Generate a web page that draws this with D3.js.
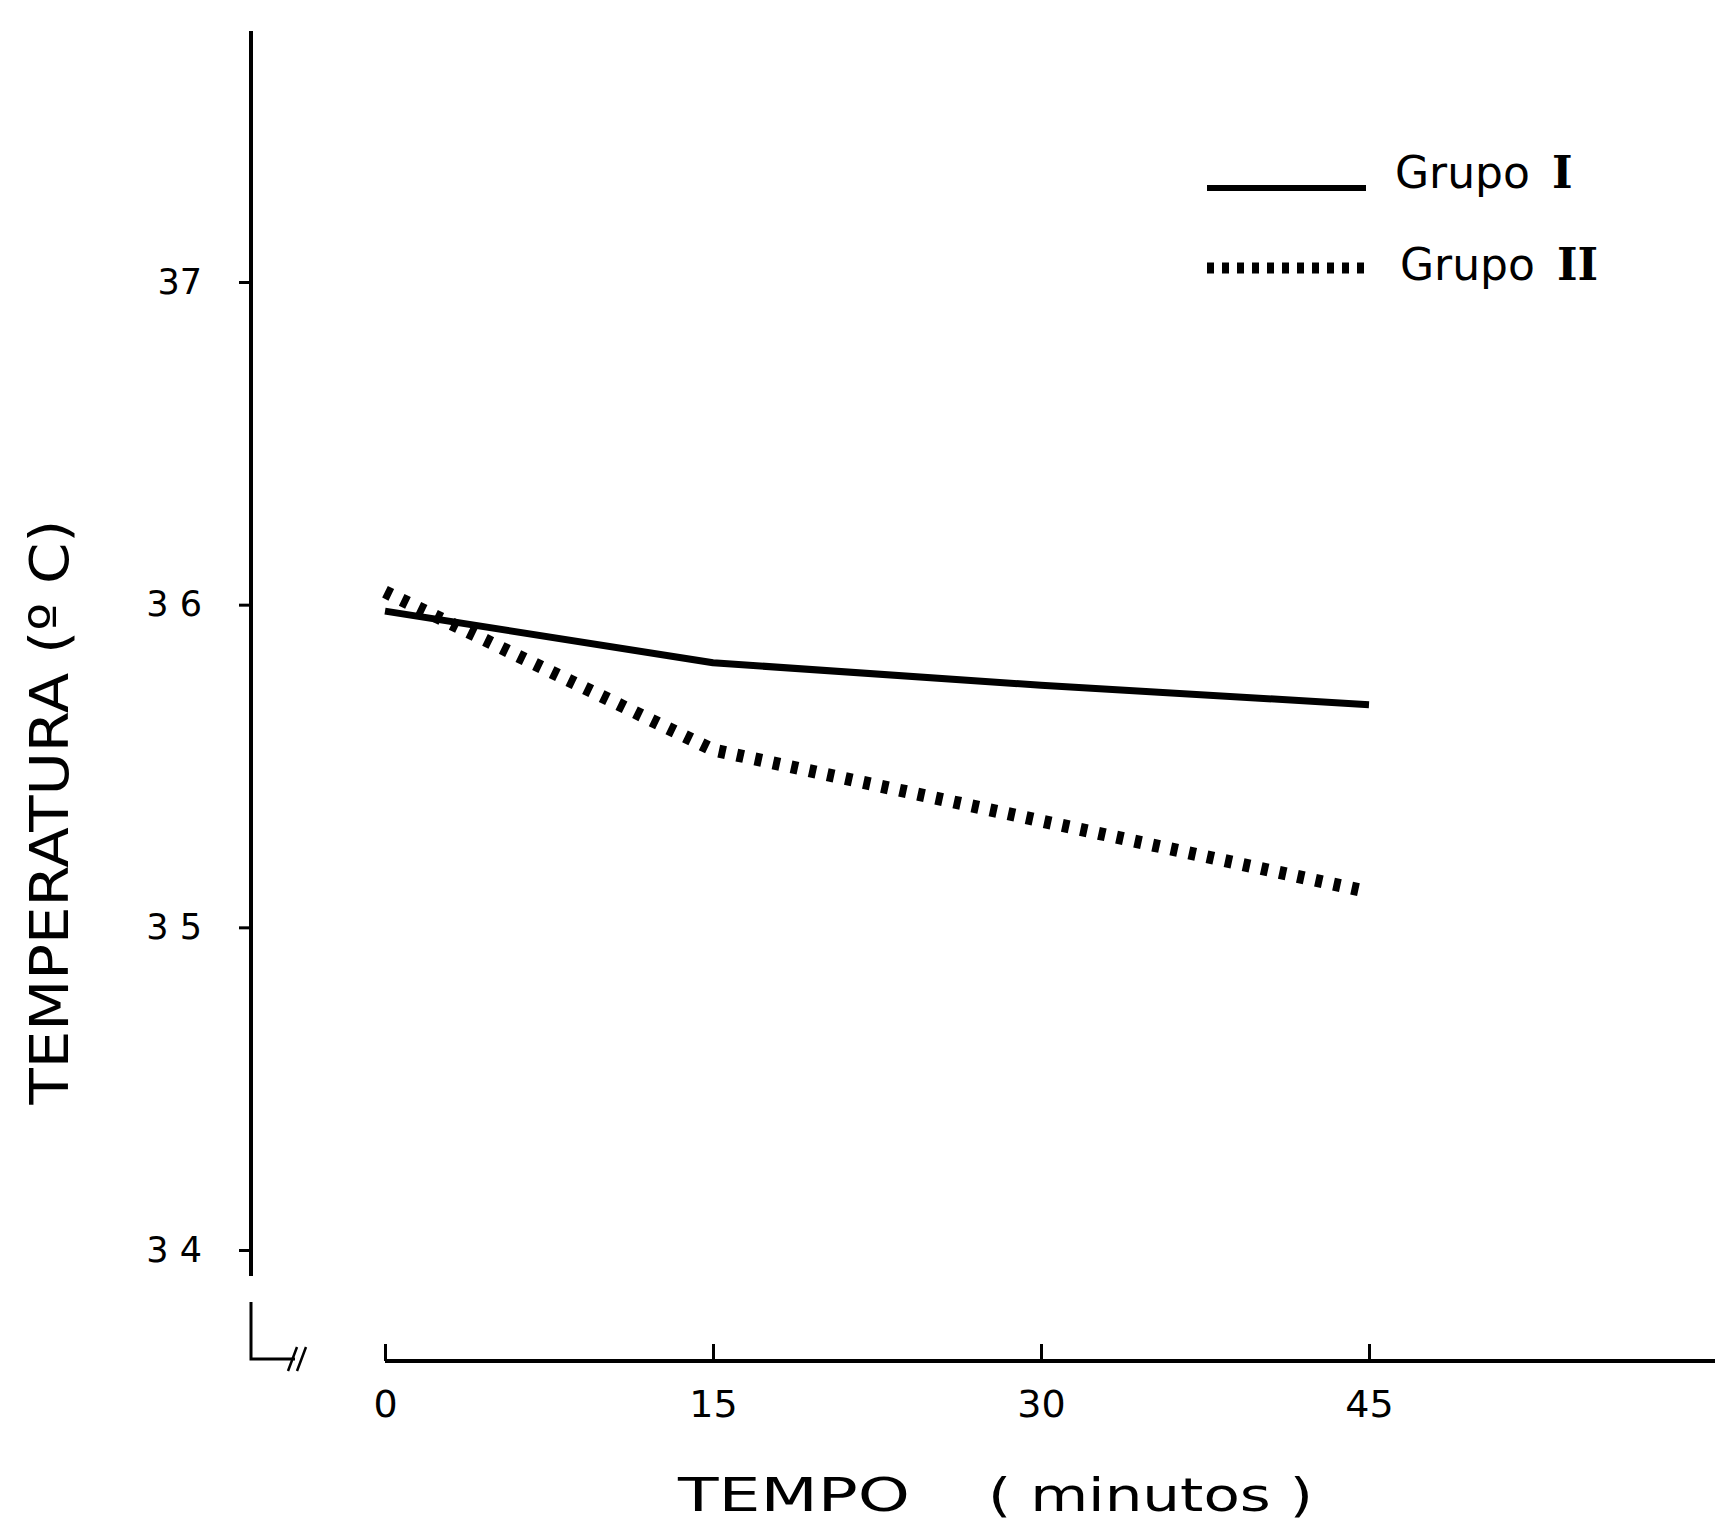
<!DOCTYPE html>
<html lang="pt">
<head>
<meta charset="utf-8">
<title>Temperatura x Tempo</title>
<script src="https://cdn.jsdelivr.net/npm/d3@7"></script>
<style>
    body { margin: 0; background: #fff; }
    text { font-family: "DejaVu Sans", sans-serif; fill: #000; }
</style>
</head>
<body>
<script>
    // dados
    var minutos = [0, 15, 30, 45];
    var grupo1 = [35.98, 35.82, 35.75, 35.69];
    var grupo2 = [36.04, 35.55, 35.33, 35.11];
    var yTicks = [34, 35, 36, 37];
    var yTickLabels = ["3 4", "3 5", "3 6", "37"];
    var xTicks = [0, 15, 30, 45];
    var xTickLabels = ["0", "15", "30", "45"];
    var grupos = ["Grupo ", "Grupo "];
    var romanos = ["I", "II"];

    var width = 1715;
    var height = 1523;
    var axisX = 251;      // eixo vertical
    var axisY = 1361;     // eixo horizontal

    var svg = d3.select("body").append("svg")
        .attr("width", width)
        .attr("height", height);

    var x = d3.scaleLinear().domain([0, 45]).range([385, 1369]);
    var y = d3.scaleLinear().domain([34, 37]).range([1250, 282]);

    // eixo Y (com quebra)
    svg.append("line")
        .attr("x1", axisX).attr("x2", axisX)
        .attr("y1", 31).attr("y2", 1276)
        .attr("stroke", "#000").attr("stroke-width", 4);
    svg.append("path")
        .attr("d", "M" + axisX + ",1302 V" + (axisY - 2) + " H295")
        .attr("fill", "none")
        .attr("stroke", "#000").attr("stroke-width", 3);
    svg.append("path")
        .attr("d", "M288,1371 L297,1347 M297,1371 L306,1347")
        .attr("stroke", "#000").attr("stroke-width", 2.5);

    var yAxis = svg.append("g")
        .attr("transform", "translate(" + axisX + ",0)")
        .call(d3.axisLeft(y)
            .tickValues(yTicks)
            .tickSize(12)
            .tickPadding(37)
            .tickFormat(function (d, i) { return yTickLabels[i]; }));
    yAxis.select(".domain").remove();
    yAxis.selectAll(".tick line").attr("stroke", "#000").attr("stroke-width", 3);
    yAxis.selectAll(".tick text")
        .style("font-size", "35px")
        .style("font-family", "\"DejaVu Sans\", sans-serif");

    // eixo X
    svg.append("line")
        .attr("x1", x(0)).attr("x2", width)
        .attr("y1", axisY).attr("y2", axisY)
        .attr("stroke", "#000").attr("stroke-width", 4);

    var xAxis = svg.append("g")
        .attr("transform", "translate(0," + axisY + ")")
        .call(d3.axisBottom(x)
            .tickValues(xTicks)
            .tickSize(-17)
            .tickPadding(29)
            .tickFormat(function (d, i) { return xTickLabels[i]; }));
    xAxis.select(".domain").remove();
    xAxis.selectAll(".tick line").attr("stroke", "#000").attr("stroke-width", 3);
    xAxis.selectAll(".tick text")
        .style("font-size", "38px")
        .style("font-family", "\"DejaVu Sans\", sans-serif");

    // titulos dos eixos
    var xTitle = svg.append("text")
        .attr("y", 1511)
        .style("font-size", "46px");
    xTitle.append("tspan")
        .attr("x", 678)
        .attr("textLength", 232)
        .attr("lengthAdjust", "spacingAndGlyphs")
        .text("TEMPO");
    xTitle.append("tspan")
        .attr("x", 988)
        .attr("textLength", 325)
        .attr("lengthAdjust", "spacingAndGlyphs")
        .text("( minutos )");

    svg.append("text")
        .attr("transform", "translate(68,812) rotate(-90)")
        .attr("text-anchor", "middle")
        .attr("textLength", 585)
        .attr("lengthAdjust", "spacingAndGlyphs")
        .style("font-size", "54px")
        .text("TEMPERATURA (º C)");

    // linhas
    var line = d3.line()
        .x(function (d, i) { return x(minutos[i]); })
        .y(function (d) { return y(d); });

    svg.append("path")
        .datum(grupo1)
        .attr("d", line)
        .attr("fill", "none")
        .attr("stroke", "#000")
        .attr("stroke-width", 7)
        .attr("stroke-linejoin", "round");

    svg.append("path")
        .datum(grupo2)
        .attr("d", line)
        .attr("fill", "none")
        .attr("stroke", "#000")
        .attr("stroke-width", 13)
        .attr("stroke-dasharray", "7,11.5");

    // legenda
    var legend = svg.append("g");
    var legendY = [188, 268];
    var legendStyle = [
        { width: 6, dash: null },
        { width: 11, dash: "7,8" }
    ];
    grupos.forEach(function (g, i) {
        legend.append("line")
            .attr("x1", 1207).attr("x2", i === 0 ? 1366 : 1372)
            .attr("y1", legendY[i]).attr("y2", legendY[i])
            .attr("stroke", "#000")
            .attr("stroke-width", legendStyle[i].width)
            .attr("stroke-dasharray", legendStyle[i].dash);
        var t = legend.append("text")
            .attr("x", i === 0 ? 1395 : 1400)
            .attr("y", legendY[i] + (i === 0 ? 0 : 12))
            .style("font-size", "44px");
        t.append("tspan").text(g);
        t.append("tspan")
            .style("font-family", "\"DejaVu Serif\", serif")
            .style("font-weight", "bold")
            .attr("dx", 8)
            .text(romanos[i]);
    });
</script>
</body>
</html>
